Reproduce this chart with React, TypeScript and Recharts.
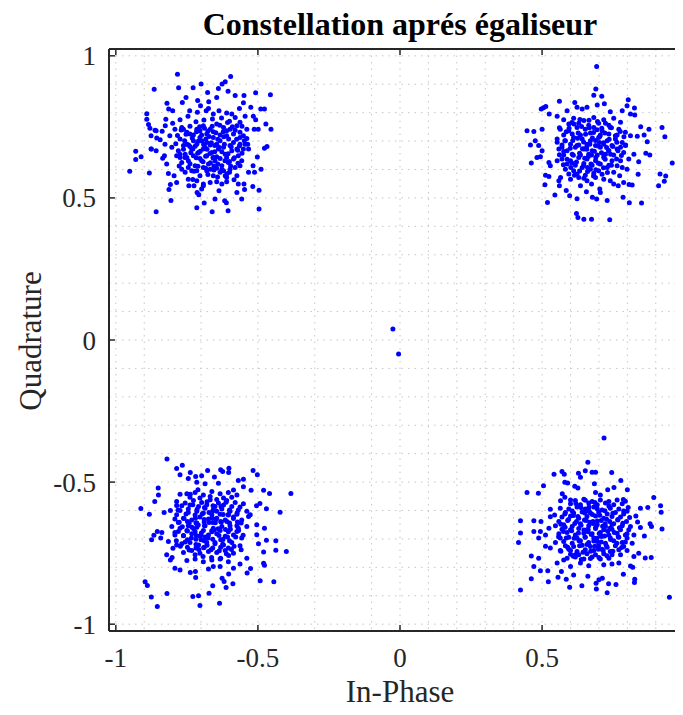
import { CartesianGrid, Scatter, ScatterChart, XAxis, YAxis } from "recharts";

const title = "Constellation aprés égaliseur";
const xLabel = "In-Phase";
const yLabel = "Quadrature";
const xTicks = [-1, -0.5, 0, 0.5, 1];
const yTicks = [-1, -0.5, 0, 0.5, 1];
const gridValues = [
  -1, -0.9, -0.8, -0.7, -0.6, -0.5, -0.4, -0.3, -0.2, -0.1, 0,
  0.1, 0.2, 0.3, 0.4, 0.5, 0.6, 0.7, 0.8, 0.9, 1,
];
const axisDomain = [-1.024, 1.024];

// symbol (I, Q) pairs, one list per constellation point
const topLeft = [
  [-0.783, 0.935], [-0.596, 0.927], [-0.865, 0.882], [-0.779, 0.888], [-0.7, 0.901], [-0.615, 0.909],
  [-0.626, 0.901], [-0.639, 0.885], [-0.728, 0.888], [-0.677, 0.871], [-0.605, 0.875], [-0.508, 0.87],
  [-0.456, 0.863], [-0.753, 0.853], [-0.712, 0.843], [-0.645, 0.853], [-0.58, 0.86], [-0.549, 0.86],
  [-0.82, 0.833], [-0.766, 0.836], [-0.673, 0.838], [-0.551, 0.835], [-0.814, 0.813], [-0.8, 0.807],
  [-0.674, 0.815], [-0.565, 0.815], [-0.525, 0.819], [-0.49, 0.813], [-0.477, 0.813], [-0.891, 0.796],
  [-0.891, 0.777], [-0.885, 0.758], [-0.88, 0.745], [-0.824, 0.777], [-0.858, 0.736], [-0.837, 0.735],
  [-0.876, 0.719], [-0.454, 0.742], [-0.472, 0.76], [-0.499, 0.742], [-0.539, 0.709], [-0.536, 0.689],
  [-0.468, 0.681], [-0.477, 0.675], [-0.93, 0.664], [-0.93, 0.635], [-0.911, 0.645], [-0.876, 0.672],
  [-0.858, 0.666], [-0.951, 0.594], [-0.882, 0.588], [-0.489, 0.601], [-0.512, 0.59], [-0.533, 0.59],
  [-0.502, 0.644], [-0.517, 0.613], [-0.808, 0.547], [-0.813, 0.53], [-0.806, 0.491], [-0.858, 0.451],
  [-0.715, 0.465], [-0.689, 0.482], [-0.661, 0.451], [-0.605, 0.455], [-0.651, 0.496], [-0.617, 0.49],
  [-0.611, 0.483], [-0.557, 0.496], [-0.574, 0.519], [-0.547, 0.53], [-0.518, 0.54], [-0.496, 0.527],
  [-0.496, 0.461], [-0.714, 0.519], [-0.708, 0.511], [-0.698, 0.531], [-0.725, 0.543], [-0.743, 0.543],
  [-0.729, 0.565], [-0.692, 0.549], [-0.645, 0.557], [-0.627, 0.549], [-0.61, 0.557], [-0.637, 0.525],
  [-0.584, 0.564], [-0.6, 0.59], [-0.615, 0.578], [-0.569, 0.549], [-0.549, 0.549], [-0.786, 0.554],
  [-0.795, 0.578], [-0.815, 0.586], [-0.835, 0.64], [-0.829, 0.648], [-0.821, 0.619], [-0.786, 0.648],
  [-0.803, 0.678], [-0.827, 0.689], [-0.844, 0.705], [-0.81, 0.719], [-0.792, 0.742], [-0.8, 0.763],
  [-0.826, 0.754], [-0.774, 0.775], [-0.768, 0.748], [-0.746, 0.787], [-0.74, 0.807], [-0.713, 0.801],
  [-0.702, 0.824], [-0.682, 0.807], [-0.657, 0.795], [-0.637, 0.807], [-0.61, 0.799], [-0.592, 0.795],
  [-0.58, 0.783], [-0.563, 0.766], [-0.545, 0.787], [-0.516, 0.787], [-0.508, 0.775], [-0.513, 0.742],
  [-0.539, 0.742], [-0.563, 0.731], [-0.545, 0.689], [-0.533, 0.672], [-0.856, 0.711], [-0.862, 0.738],
  [-0.875, 0.672],
  [-0.762, 0.742], [-0.739, 0.725], [-0.715, 0.742], [-0.692, 0.754], [-0.668, 0.742], [-0.645, 0.76],
  [-0.621, 0.748], [-0.598, 0.742], [-0.574, 0.754], [-0.551, 0.719], [-0.774, 0.707], [-0.75, 0.689],
  [-0.727, 0.701], [-0.704, 0.713], [-0.68, 0.695], [-0.657, 0.713], [-0.633, 0.701], [-0.61, 0.719],
  [-0.586, 0.695], [-0.563, 0.689], [-0.78, 0.666], [-0.756, 0.654], [-0.733, 0.672], [-0.709, 0.66],
  [-0.686, 0.678], [-0.662, 0.66], [-0.639, 0.672], [-0.615, 0.654], [-0.592, 0.666], [-0.569, 0.648],
  [-0.768, 0.625], [-0.745, 0.631], [-0.721, 0.613], [-0.698, 0.631], [-0.674, 0.619], [-0.651, 0.631],
  [-0.627, 0.613], [-0.604, 0.625], [-0.58, 0.607], [-0.557, 0.631], [-0.756, 0.59], [-0.733, 0.596],
  [-0.704, 0.578], [-0.68, 0.596], [-0.657, 0.578], [-0.633, 0.59], [-0.61, 0.572], [-0.745, 0.566],
  [-0.668, 0.554], [-0.692, 0.543],
  [-0.75, 0.731], [-0.727, 0.721], [-0.704, 0.736], [-0.68, 0.725], [-0.657, 0.733], [-0.633, 0.721],
  [-0.61, 0.736], [-0.586, 0.725], [-0.563, 0.713], [-0.762, 0.684], [-0.739, 0.681], [-0.715, 0.689],
  [-0.692, 0.672], [-0.668, 0.686], [-0.645, 0.689], [-0.621, 0.678], [-0.598, 0.684], [-0.574, 0.672],
  [-0.551, 0.672], [-0.774, 0.642], [-0.75, 0.642], [-0.727, 0.648], [-0.704, 0.639], [-0.68, 0.648],
  [-0.657, 0.642], [-0.633, 0.639], [-0.61, 0.642], [-0.586, 0.637], [-0.563, 0.613], [-0.768, 0.601],
  [-0.745, 0.607], [-0.715, 0.596], [-0.692, 0.607], [-0.668, 0.601], [-0.645, 0.604], [-0.621, 0.596],
  [-0.598, 0.601], [-0.574, 0.578], [-0.715, 0.56],
  [-0.664, 0.694], [-0.679, 0.671], [-0.652, 0.662], [-0.691, 0.688], [-0.703, 0.664], [-0.641, 0.706],
  [-0.618, 0.689], [-0.627, 0.662], [-0.658, 0.641], [-0.684, 0.647], [-0.71, 0.699], [-0.721, 0.682],
  [-0.698, 0.721], [-0.672, 0.716], [-0.648, 0.729], [-0.622, 0.733], [-0.603, 0.707], [-0.594, 0.68],
  [-0.605, 0.655], [-0.616, 0.631], [-0.641, 0.619], [-0.667, 0.624], [-0.693, 0.627], [-0.717, 0.641],
  [-0.736, 0.659], [-0.744, 0.686], [-0.731, 0.711], [-0.716, 0.733], [-0.688, 0.745], [-0.661, 0.752],
  [-0.634, 0.756], [-0.607, 0.765], [-0.58, 0.738], [-0.575, 0.706], [-0.571, 0.668], [-0.583, 0.641],
  [-0.596, 0.612], [-0.627, 0.6], [-0.655, 0.598], [-0.684, 0.604], [-0.711, 0.611], [-0.739, 0.62],
  [-0.757, 0.642], [-0.762, 0.671], [-0.758, 0.701], [-0.753, 0.724], [-0.739, 0.752], [-0.718, 0.768],
  [-0.69, 0.774], [-0.66, 0.778], [-0.628, 0.781], [-0.6, 0.77], [-0.556, 0.752], [-0.548, 0.701],
  [-0.556, 0.657], [-0.57, 0.622], [-0.609, 0.585], [-0.642, 0.574], [-0.676, 0.582], [-0.725, 0.594],
  [-0.777, 0.612], [-0.789, 0.691], [-0.783, 0.72], [-0.652, 0.684], [-0.637, 0.678], [-0.669, 0.656],
  [-0.697, 0.7], [-0.683, 0.707], [-0.645, 0.645], [-0.62, 0.715], [-0.712, 0.657], [-0.729, 0.672],
  [-0.6, 0.628], [-0.774, 0.654], [-0.77, 0.739], [-0.676, 0.735], [-0.655, 0.612], [-0.705, 0.75],
  [-0.59, 0.75], [-0.565, 0.683],
];

const topRight = [
  [0.692, 0.962], [0.689, 0.883], [0.682, 0.861], [0.71, 0.858], [0.803, 0.845], [0.561, 0.84],
  [0.615, 0.836], [0.694, 0.827], [0.719, 0.831], [0.825, 0.816], [0.799, 0.824], [0.505, 0.817],
  [0.513, 0.822], [0.497, 0.813], [0.525, 0.795], [0.553, 0.787], [0.588, 0.807], [0.623, 0.819],
  [0.641, 0.813], [0.658, 0.819], [0.74, 0.803], [0.782, 0.807], [0.811, 0.795], [0.826, 0.792],
  [0.447, 0.736], [0.471, 0.734], [0.5, 0.742], [0.476, 0.701], [0.459, 0.686], [0.488, 0.684],
  [0.5, 0.666], [0.494, 0.645], [0.482, 0.642], [0.462, 0.623], [0.524, 0.625], [0.922, 0.748],
  [0.932, 0.715], [0.958, 0.623], [0.876, 0.742], [0.847, 0.75], [0.859, 0.721], [0.87, 0.698],
  [0.835, 0.717], [0.811, 0.719], [0.865, 0.657], [0.879, 0.651], [0.84, 0.627], [0.823, 0.654],
  [0.915, 0.584], [0.935, 0.577], [0.93, 0.559], [0.91, 0.543], [0.838, 0.583], [0.817, 0.545],
  [0.806, 0.547], [0.787, 0.554], [0.785, 0.502], [0.807, 0.483], [0.85, 0.482], [0.729, 0.491],
  [0.692, 0.496], [0.677, 0.502], [0.656, 0.522], [0.623, 0.497], [0.597, 0.508], [0.585, 0.526],
  [0.545, 0.51], [0.519, 0.484], [0.621, 0.445], [0.626, 0.431], [0.647, 0.425], [0.674, 0.425],
  [0.738, 0.423], [0.512, 0.58], [0.524, 0.575], [0.51, 0.546], [0.559, 0.56], [0.561, 0.543],
  [0.565, 0.572], [0.529, 0.613], [0.553, 0.631], [0.635, 0.543], [0.674, 0.549], [0.703, 0.531],
  [0.705, 0.519], [0.752, 0.549], [0.768, 0.543], [0.773, 0.578], [0.799, 0.601], [0.805, 0.637],
  [0.793, 0.684],
  [0.576, 0.775], [0.611, 0.78], [0.647, 0.772], [0.682, 0.783], [0.717, 0.775], [0.752, 0.78],
  [0.776, 0.766], [0.564, 0.742], [0.594, 0.736], [0.623, 0.748], [0.652, 0.742], [0.682, 0.748],
  [0.711, 0.736], [0.74, 0.748], [0.77, 0.742], [0.793, 0.731], [0.553, 0.707], [0.582, 0.701],
  [0.611, 0.713], [0.641, 0.707], [0.67, 0.701], [0.699, 0.713], [0.729, 0.701], [0.758, 0.707],
  [0.782, 0.695], [0.559, 0.672], [0.588, 0.666], [0.617, 0.678], [0.647, 0.672], [0.676, 0.666],
  [0.705, 0.678], [0.735, 0.666], [0.764, 0.672], [0.787, 0.66], [0.57, 0.637], [0.6, 0.631],
  [0.629, 0.642], [0.658, 0.637], [0.688, 0.631], [0.717, 0.642], [0.746, 0.631], [0.776, 0.631],
  [0.582, 0.601], [0.611, 0.596], [0.641, 0.607], [0.67, 0.601], [0.699, 0.596], [0.729, 0.607],
  [0.752, 0.59], [0.6, 0.566], [0.629, 0.572], [0.658, 0.56], [0.688, 0.572], [0.717, 0.566],
  [0.74, 0.56],
  [0.594, 0.76], [0.629, 0.763], [0.664, 0.756], [0.699, 0.763], [0.735, 0.756], [0.576, 0.721],
  [0.606, 0.725], [0.635, 0.721], [0.67, 0.728], [0.705, 0.721], [0.735, 0.725], [0.764, 0.721],
  [0.57, 0.686], [0.6, 0.689], [0.629, 0.686], [0.658, 0.689], [0.688, 0.684], [0.717, 0.689],
  [0.746, 0.684], [0.776, 0.678], [0.576, 0.651], [0.606, 0.654], [0.635, 0.651], [0.664, 0.654],
  [0.694, 0.651], [0.723, 0.654], [0.752, 0.651], [0.588, 0.619], [0.617, 0.615], [0.647, 0.621],
  [0.676, 0.615], [0.705, 0.619], [0.735, 0.615], [0.764, 0.613], [0.594, 0.584], [0.623, 0.584],
  [0.652, 0.58], [0.682, 0.587], [0.711, 0.583],
  [0.668, 0.689], [0.684, 0.664], [0.657, 0.671], [0.697, 0.683], [0.709, 0.659], [0.646, 0.697],
  [0.623, 0.684], [0.632, 0.657], [0.663, 0.646], [0.689, 0.642], [0.716, 0.694], [0.727, 0.677],
  [0.703, 0.716], [0.677, 0.711], [0.653, 0.724], [0.627, 0.728], [0.608, 0.702], [0.599, 0.675],
  [0.61, 0.65], [0.621, 0.626], [0.646, 0.614], [0.672, 0.619], [0.698, 0.622], [0.722, 0.636],
  [0.741, 0.654], [0.749, 0.681], [0.736, 0.706], [0.721, 0.728], [0.693, 0.74], [0.666, 0.747],
  [0.639, 0.751], [0.612, 0.76], [0.585, 0.733], [0.58, 0.701], [0.576, 0.663], [0.588, 0.636],
  [0.601, 0.607], [0.632, 0.595], [0.66, 0.593], [0.689, 0.599], [0.716, 0.606], [0.744, 0.615],
  [0.762, 0.637], [0.767, 0.666], [0.763, 0.696], [0.758, 0.719], [0.744, 0.747], [0.723, 0.763],
  [0.695, 0.769], [0.665, 0.773], [0.633, 0.776], [0.605, 0.765], [0.561, 0.747], [0.553, 0.696],
  [0.561, 0.652], [0.575, 0.617], [0.614, 0.58], [0.647, 0.569], [0.681, 0.577], [0.73, 0.589],
  [0.782, 0.607], [0.794, 0.686], [0.788, 0.715], [0.657, 0.679], [0.642, 0.673], [0.674, 0.651],
  [0.702, 0.695], [0.688, 0.702], [0.65, 0.64], [0.625, 0.71], [0.717, 0.652], [0.734, 0.667],
  [0.605, 0.623], [0.779, 0.649], [0.775, 0.734], [0.681, 0.73], [0.66, 0.607], [0.71, 0.745],
  [0.595, 0.745], [0.57, 0.678],
];

const bottomLeft = [
  [-0.82, -0.419], [-0.786, -0.452], [-0.766, -0.441], [-0.774, -0.474], [-0.738, -0.466], [-0.719, -0.48],
  [-0.698, -0.478], [-0.677, -0.459], [-0.653, -0.482], [-0.631, -0.457], [-0.624, -0.463], [-0.602, -0.451],
  [-0.603, -0.466], [-0.517, -0.459], [-0.502, -0.474], [-0.569, -0.494], [-0.551, -0.49], [-0.745, -0.487],
  [-0.715, -0.501], [-0.686, -0.506], [-0.639, -0.504], [-0.774, -0.543], [-0.738, -0.543], [-0.711, -0.527],
  [-0.851, -0.521], [-0.85, -0.545], [-0.863, -0.568], [-0.912, -0.593], [-0.882, -0.613], [-0.83, -0.607],
  [-0.808, -0.6], [-0.786, -0.582], [-0.524, -0.529], [-0.48, -0.529], [-0.459, -0.54], [-0.384, -0.54],
  [-0.422, -0.606], [-0.47, -0.594], [-0.493, -0.575], [-0.505, -0.583], [-0.551, -0.516], [-0.586, -0.528],
  [-0.533, -0.621], [-0.504, -0.65], [-0.477, -0.662], [-0.504, -0.685], [-0.47, -0.705], [-0.437, -0.706],
  [-0.437, -0.74], [-0.4, -0.744], [-0.48, -0.746], [-0.498, -0.717], [-0.492, -0.847], [-0.444, -0.851],
  [-0.48, -0.786], [-0.477, -0.793], [-0.526, -0.804], [-0.538, -0.82], [-0.539, -0.768], [-0.563, -0.788],
  [-0.854, -0.674], [-0.866, -0.687], [-0.874, -0.703], [-0.842, -0.697], [-0.838, -0.677], [-0.897, -0.851],
  [-0.889, -0.864], [-0.875, -0.904], [-0.854, -0.938], [-0.82, -0.892], [-0.729, -0.903], [-0.709, -0.9],
  [-0.704, -0.934], [-0.672, -0.891], [-0.659, -0.865], [-0.635, -0.926], [-0.612, -0.871], [-0.619, -0.85],
  [-0.588, -0.858], [-0.603, -0.823], [-0.626, -0.838], [-0.738, -0.818], [-0.719, -0.836], [-0.72, -0.815],
  [-0.792, -0.803], [-0.774, -0.809], [-0.808, -0.774], [-0.802, -0.765], [-0.821, -0.756], [-0.799, -0.733],
  [-0.815, -0.709], [-0.786, -0.721], [-0.674, -0.806], [-0.657, -0.797], [-0.633, -0.797], [-0.586, -0.803],
  [-0.75, -0.541], [-0.721, -0.537], [-0.692, -0.545], [-0.662, -0.533], [-0.633, -0.541], [-0.604, -0.537],
  [-0.574, -0.545], [-0.786, -0.568], [-0.756, -0.574], [-0.727, -0.565], [-0.698, -0.572], [-0.668, -0.562],
  [-0.639, -0.574], [-0.61, -0.565], [-0.58, -0.572], [-0.551, -0.576], [-0.774, -0.6], [-0.745, -0.595],
  [-0.715, -0.603], [-0.686, -0.592], [-0.657, -0.6], [-0.627, -0.595], [-0.598, -0.603], [-0.569, -0.598],
  [-0.539, -0.603], [-0.792, -0.63], [-0.762, -0.627], [-0.733, -0.633], [-0.704, -0.623], [-0.674, -0.63],
  [-0.645, -0.627], [-0.615, -0.633], [-0.586, -0.623], [-0.557, -0.633], [-0.803, -0.656], [-0.774, -0.662],
  [-0.745, -0.654], [-0.715, -0.659], [-0.686, -0.654], [-0.657, -0.662], [-0.627, -0.656], [-0.598, -0.654],
  [-0.569, -0.662], [-0.539, -0.656], [-0.792, -0.686], [-0.762, -0.689], [-0.733, -0.682], [-0.704, -0.691],
  [-0.674, -0.686], [-0.645, -0.682], [-0.615, -0.691], [-0.586, -0.686], [-0.557, -0.697], [-0.768, -0.717],
  [-0.739, -0.713], [-0.709, -0.721], [-0.68, -0.713], [-0.651, -0.717], [-0.621, -0.721], [-0.592, -0.713],
  [-0.563, -0.724], [-0.762, -0.748], [-0.733, -0.741], [-0.704, -0.75], [-0.674, -0.744], [-0.645, -0.748],
  [-0.615, -0.741], [-0.586, -0.75], [-0.75, -0.776], [-0.721, -0.771], [-0.692, -0.78], [-0.662, -0.774],
  [-0.633, -0.771], [-0.604, -0.78],
  [-0.739, -0.553], [-0.704, -0.556], [-0.668, -0.551], [-0.621, -0.556], [-0.592, -0.553], [-0.768, -0.583],
  [-0.739, -0.581], [-0.709, -0.586], [-0.68, -0.58], [-0.651, -0.586], [-0.621, -0.581], [-0.592, -0.586],
  [-0.563, -0.588], [-0.786, -0.615], [-0.753, -0.612], [-0.721, -0.616], [-0.692, -0.609], [-0.662, -0.615],
  [-0.633, -0.613], [-0.604, -0.616], [-0.574, -0.613], [-0.527, -0.615], [-0.78, -0.642], [-0.748, -0.639],
  [-0.718, -0.644], [-0.689, -0.64], [-0.659, -0.642], [-0.631, -0.639], [-0.6, -0.644], [-0.572, -0.64],
  [-0.78, -0.674], [-0.75, -0.67], [-0.721, -0.675], [-0.692, -0.67], [-0.662, -0.675], [-0.633, -0.67],
  [-0.604, -0.675], [-0.574, -0.674], [-0.748, -0.703], [-0.718, -0.701], [-0.689, -0.706], [-0.659, -0.701],
  [-0.631, -0.703], [-0.6, -0.706], [-0.748, -0.729], [-0.718, -0.732], [-0.689, -0.729], [-0.659, -0.732],
  [-0.631, -0.729], [-0.604, -0.732],
  [-0.662, -0.671], [-0.688, -0.654], [-0.65, -0.643], [-0.699, -0.679], [-0.71, -0.651], [-0.637, -0.688],
  [-0.614, -0.667], [-0.629, -0.641], [-0.661, -0.626], [-0.689, -0.632], [-0.717, -0.688], [-0.726, -0.664],
  [-0.7, -0.703], [-0.675, -0.697], [-0.651, -0.713], [-0.624, -0.719], [-0.607, -0.693], [-0.597, -0.666],
  [-0.609, -0.639], [-0.622, -0.614], [-0.645, -0.603], [-0.672, -0.607], [-0.696, -0.612], [-0.72, -0.627],
  [-0.742, -0.645], [-0.748, -0.672], [-0.734, -0.697], [-0.718, -0.72], [-0.691, -0.731], [-0.665, -0.738],
  [-0.636, -0.742], [-0.611, -0.752], [-0.584, -0.726], [-0.578, -0.693], [-0.574, -0.654], [-0.586, -0.628],
  [-0.6, -0.598], [-0.63, -0.586], [-0.658, -0.583], [-0.688, -0.589], [-0.714, -0.596], [-0.745, -0.607],
  [-0.76, -0.628], [-0.766, -0.657], [-0.762, -0.688], [-0.756, -0.711], [-0.742, -0.739], [-0.721, -0.756],
  [-0.693, -0.762], [-0.663, -0.765], [-0.631, -0.768], [-0.603, -0.758], [-0.559, -0.738], [-0.552, -0.687],
  [-0.559, -0.644], [-0.573, -0.608], [-0.612, -0.571], [-0.645, -0.561], [-0.679, -0.569], [-0.729, -0.58],
  [-0.781, -0.598], [-0.792, -0.677], [-0.787, -0.706], [-0.655, -0.669], [-0.64, -0.664], [-0.672, -0.642],
  [-0.701, -0.687], [-0.686, -0.693], [-0.648, -0.632], [-0.623, -0.702], [-0.715, -0.644], [-0.732, -0.659],
  [-0.604, -0.614], [-0.777, -0.641], [-0.773, -0.726], [-0.679, -0.722], [-0.658, -0.599], [-0.708, -0.737],
  [-0.593, -0.737], [-0.568, -0.67],
];

const bottomRight = [
  [0.718, -0.345], [0.661, -0.43], [0.542, -0.472], [0.57, -0.463], [0.578, -0.472], [0.628, -0.469],
  [0.635, -0.483], [0.652, -0.46], [0.676, -0.465], [0.688, -0.465], [0.745, -0.466], [0.777, -0.494],
  [0.447, -0.537], [0.487, -0.539], [0.505, -0.513], [0.58, -0.501], [0.59, -0.503], [0.615, -0.515],
  [0.626, -0.521], [0.684, -0.506], [0.731, -0.527], [0.753, -0.519], [0.8, -0.527], [0.571, -0.541],
  [0.58, -0.553], [0.565, -0.566], [0.6, -0.563], [0.688, -0.537], [0.705, -0.545], [0.786, -0.561],
  [0.793, -0.567], [0.893, -0.554], [0.917, -0.583], [0.919, -0.606], [0.872, -0.589], [0.846, -0.592],
  [0.803, -0.589], [0.83, -0.619], [0.836, -0.64], [0.808, -0.625], [0.88, -0.647], [0.885, -0.656],
  [0.922, -0.665], [0.846, -0.66], [0.86, -0.69], [0.424, -0.636], [0.424, -0.679], [0.417, -0.713],
  [0.471, -0.636], [0.496, -0.639], [0.529, -0.596], [0.529, -0.622], [0.544, -0.616], [0.471, -0.674],
  [0.494, -0.674], [0.488, -0.697], [0.512, -0.686], [0.524, -0.662], [0.512, -0.726], [0.529, -0.732],
  [0.462, -0.76], [0.488, -0.768], [0.471, -0.797], [0.494, -0.812], [0.52, -0.812], [0.462, -0.84],
  [0.522, -0.851], [0.424, -0.88], [0.556, -0.835], [0.585, -0.842], [0.597, -0.87], [0.568, -0.815],
  [0.611, -0.827], [0.661, -0.831], [0.64, -0.865], [0.69, -0.856], [0.691, -0.876], [0.7, -0.844],
  [0.712, -0.838], [0.734, -0.858], [0.729, -0.889], [0.76, -0.86], [0.786, -0.824], [0.826, -0.842],
  [0.825, -0.853], [0.811, -0.795], [0.819, -0.8], [0.863, -0.767], [0.884, -0.765], [0.84, -0.75],
  [0.823, -0.762], [0.948, -0.905], [0.746, -0.788], [0.77, -0.785], [0.717, -0.791], [0.664, -0.794],
  [0.635, -0.785], [0.6, -0.797], [0.576, -0.774], [0.553, -0.785],
  [0.617, -0.565], [0.647, -0.56], [0.676, -0.568], [0.705, -0.563], [0.735, -0.568], [0.764, -0.563],
  [0.564, -0.592], [0.594, -0.595], [0.623, -0.588], [0.652, -0.595], [0.682, -0.588], [0.711, -0.598],
  [0.74, -0.592], [0.77, -0.595], [0.799, -0.603], [0.57, -0.623], [0.6, -0.619], [0.629, -0.627],
  [0.658, -0.621], [0.688, -0.619], [0.717, -0.627], [0.746, -0.621], [0.776, -0.623], [0.547, -0.654],
  [0.576, -0.65], [0.606, -0.656], [0.635, -0.647], [0.664, -0.654], [0.694, -0.65], [0.723, -0.656],
  [0.752, -0.647], [0.782, -0.654], [0.811, -0.656], [0.559, -0.682], [0.588, -0.677], [0.617, -0.686],
  [0.647, -0.68], [0.676, -0.682], [0.705, -0.677], [0.735, -0.686], [0.764, -0.68], [0.793, -0.686],
  [0.823, -0.686], [0.547, -0.713], [0.576, -0.709], [0.606, -0.715], [0.635, -0.706], [0.664, -0.713],
  [0.694, -0.709], [0.723, -0.715], [0.752, -0.706], [0.782, -0.713], [0.817, -0.715], [0.564, -0.741],
  [0.594, -0.736], [0.623, -0.744], [0.652, -0.738], [0.682, -0.741], [0.711, -0.736], [0.74, -0.744],
  [0.77, -0.738], [0.799, -0.741], [0.588, -0.768], [0.617, -0.764], [0.647, -0.771], [0.676, -0.764],
  [0.705, -0.771], [0.735, -0.768],
  [0.6, -0.576], [0.635, -0.58], [0.664, -0.574], [0.694, -0.58], [0.723, -0.574], [0.752, -0.58],
  [0.782, -0.576], [0.582, -0.607], [0.611, -0.609], [0.641, -0.605], [0.67, -0.609], [0.699, -0.605],
  [0.729, -0.612], [0.758, -0.607], [0.787, -0.612], [0.559, -0.639], [0.59, -0.635], [0.621, -0.639],
  [0.649, -0.633], [0.679, -0.639], [0.708, -0.635], [0.738, -0.639], [0.766, -0.633], [0.797, -0.639],
  [0.57, -0.666], [0.6, -0.668], [0.629, -0.663], [0.658, -0.668], [0.688, -0.663], [0.717, -0.668],
  [0.746, -0.666], [0.776, -0.668], [0.805, -0.668], [0.564, -0.697], [0.594, -0.694], [0.623, -0.697],
  [0.652, -0.694], [0.682, -0.697], [0.711, -0.691], [0.74, -0.697], [0.77, -0.694], [0.799, -0.697],
  [0.582, -0.724], [0.611, -0.727], [0.641, -0.722], [0.67, -0.727], [0.699, -0.724], [0.729, -0.729],
  [0.758, -0.724], [0.787, -0.727], [0.6, -0.754], [0.629, -0.756], [0.658, -0.752], [0.688, -0.756],
  [0.717, -0.752], [0.746, -0.756], [0.776, -0.756],
  [0.673, -0.684], [0.689, -0.659], [0.662, -0.667], [0.701, -0.681], [0.713, -0.655], [0.651, -0.693],
  [0.628, -0.679], [0.637, -0.652], [0.668, -0.641], [0.694, -0.637], [0.72, -0.69], [0.731, -0.673],
  [0.708, -0.711], [0.682, -0.707], [0.658, -0.72], [0.632, -0.724], [0.613, -0.698], [0.604, -0.671],
  [0.615, -0.646], [0.626, -0.621], [0.651, -0.609], [0.677, -0.614], [0.703, -0.617], [0.727, -0.631],
  [0.746, -0.649], [0.754, -0.677], [0.741, -0.702], [0.726, -0.724], [0.698, -0.736], [0.671, -0.743],
  [0.644, -0.747], [0.617, -0.756], [0.59, -0.729], [0.585, -0.697], [0.581, -0.659], [0.593, -0.632],
  [0.606, -0.602], [0.637, -0.59], [0.665, -0.588], [0.694, -0.594], [0.721, -0.601], [0.749, -0.61],
  [0.767, -0.632], [0.772, -0.661], [0.768, -0.692], [0.763, -0.715], [0.749, -0.743], [0.728, -0.759],
  [0.7, -0.765], [0.67, -0.769], [0.638, -0.772], [0.61, -0.761], [0.566, -0.743], [0.558, -0.692],
  [0.566, -0.648], [0.58, -0.612], [0.619, -0.575], [0.652, -0.564], [0.686, -0.572], [0.735, -0.584],
  [0.787, -0.602], [0.799, -0.682], [0.793, -0.711], [0.662, -0.675], [0.647, -0.669], [0.679, -0.646],
  [0.707, -0.691], [0.693, -0.698], [0.655, -0.635], [0.63, -0.706], [0.722, -0.647], [0.739, -0.662],
  [0.61, -0.618], [0.784, -0.645], [0.78, -0.73], [0.686, -0.726], [0.665, -0.602], [0.715, -0.741],
  [0.6, -0.741], [0.575, -0.674],
];

const nearOrigin = [
  [-0.025, 0.039], [-0.005, -0.049],
];

const points = [...topLeft, ...topRight, ...bottomLeft, ...bottomRight, ...nearOrigin].map(
  ([i, q]) => ({ i, q })
);

const FONT = '"Liberation Serif", "Times New Roman", serif';
const INK = "#262626";

function Dot(props: any) {
  const { cx, cy } = props;
  return <circle cx={cx} cy={cy} r={2.5} fill="#0000ff" />;
}

const tickStyle = { fill: INK, fontSize: 27, fontFamily: FONT };

const textBase = {
  position: "absolute" as const,
  fontFamily: FONT,
  whiteSpace: "nowrap" as const,
  textAlign: "center" as const,
};

export default function App() {
  // wrapper cancels the body margin so everything below is in page pixels
  return (
    <div
      style={{
        position: "relative",
        width: 683,
        height: 715,
        margin: "-8px -8px -8px -8px",
        overflow: "hidden",
      }}
    >
      <div
        style={{
          ...textBase,
          left: 0,
          top: 4,
          width: 800,
          fontWeight: "bold",
          fontSize: 32,
          lineHeight: "40px",
          color: "#000",
        }}
      >
        {title}
      </div>
      <div style={{ position: "absolute", left: 8, top: 8 }}>
        <ScatterChart width={693} height={699} margin={{ top: 40, right: 10, bottom: 36, left: 41 }}>
          <CartesianGrid
            xAxisId="b"
            yAxisId="l"
            horizontalValues={gridValues}
            verticalValues={gridValues}
            stroke="#c6c6c6"
            strokeDasharray="1.5 5"
          />
          <XAxis
            xAxisId="b"
            dataKey="i"
            type="number"
            domain={axisDomain}
            allowDataOverflow
            ticks={xTicks}
            height={40}
            tickSize={-6}
            tickMargin={23}
            tick={tickStyle}
            axisLine={{ stroke: INK, strokeWidth: 2 }}
            tickLine={{ stroke: INK, strokeWidth: 1.5 }}
          />
          <XAxis
            xAxisId="t"
            orientation="top"
            dataKey="i"
            type="number"
            domain={axisDomain}
            allowDataOverflow
            ticks={xTicks}
            height={1}
            tickSize={-6}
            tick={() => <g />}
            axisLine={{ stroke: INK, strokeWidth: 2 }}
            tickLine={{ stroke: INK, strokeWidth: 1.5 }}
          />
          <YAxis
            yAxisId="l"
            dataKey="q"
            type="number"
            domain={axisDomain}
            allowDataOverflow
            ticks={yTicks}
            width={60}
            tickSize={-6}
            tickMargin={19}
            tick={tickStyle}
            axisLine={{ stroke: INK, strokeWidth: 2 }}
            tickLine={{ stroke: INK, strokeWidth: 1.5 }}
          />
          <Scatter
            xAxisId="b"
            yAxisId="l"
            data={points}
            shape={Dot}
            isAnimationActive={false}
          />
        </ScatterChart>
      </div>
      <div
        style={{
          ...textBase,
          left: 0,
          top: 672,
          width: 800,
          fontSize: 31,
          lineHeight: "40px",
          color: INK,
        }}
      >
        {xLabel}
      </div>
      <div
        style={{
          ...textBase,
          left: -69,
          top: 323,
          width: 200,
          height: 36,
          fontSize: 31,
          lineHeight: "36px",
          color: INK,
          transform: "rotate(-90deg)",
        }}
      >
        {yLabel}
      </div>
    </div>
  );
}
